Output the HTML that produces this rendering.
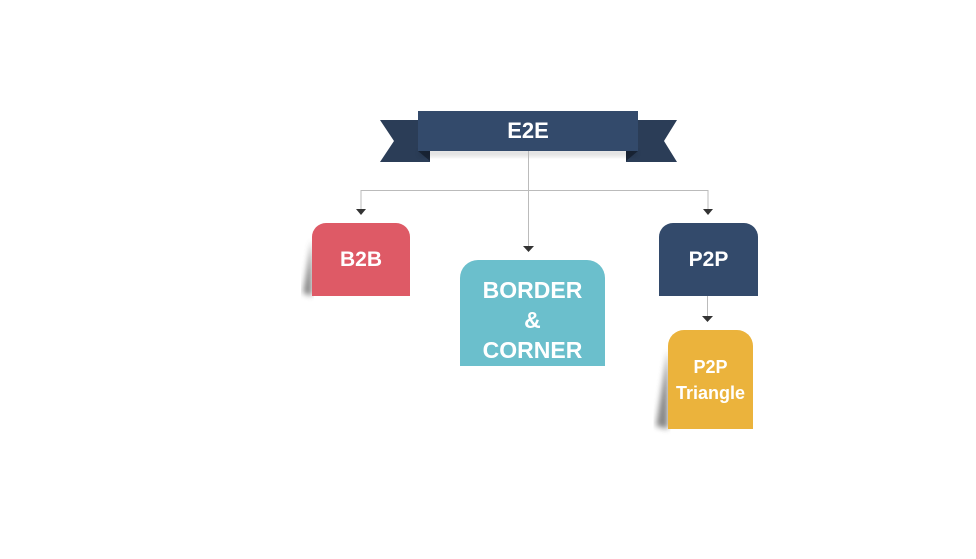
<!DOCTYPE html>
<html><head><style>
body{margin:0;width:976px;height:559px;background:#fff;overflow:hidden;position:relative;font-family:"Liberation Sans",sans-serif}
.b{position:absolute;color:#fff;font-weight:bold;display:flex;align-items:center;justify-content:center;text-align:center;box-sizing:border-box}
</style></head><body>
<svg width="976" height="559" style="position:absolute;left:0;top:0">
<defs><filter id="s" x="-20%" y="-20%" width="140%" height="160%"><feGaussianBlur stdDeviation="3"/></filter></defs>
<polygon points="380,120 430,120 430,162 380,162 394,141" fill="#2b3d57"/>
<polygon points="626,120 677,120 664,141 677,162 626,162" fill="#2b3d57"/>
<polygon points="418,151 430,151 430,161" fill="#1a2638"/>
<polygon points="638,151 626,151 626,161" fill="#1a2638"/>
<rect x="420" y="150" width="216" height="6" fill="#000" opacity="0.15" filter="url(#s)"/>
<rect x="418" y="111" width="220" height="40" fill="#334a6b"/>
<text x="528" y="138" fill="#fff" font-size="22" font-weight="bold" text-anchor="middle" font-family="Liberation Sans">E2E</text>
<g stroke="#bbb" stroke-width="1" fill="none">
<path d="M361,211 V190.5 H708 V211"/>
<path d="M528.5,151 V246"/>
<path d="M707.5,295 V316"/>
</g>
<g fill="#333">
<polygon points="356,209 366,209 361,215"/>
<polygon points="703,209 713,209 708,215"/>
<polygon points="523,246 534,246 528.5,252"/>
<polygon points="702,316 713,316 707.5,322"/>
</g>
<polygon points="312,240 303,293 312,296" fill="#555" filter="url(#s)" opacity="0.7"/>
<polygon points="668,350 656,426 668,429" fill="#555" filter="url(#s)" opacity="0.7"/>
</svg>
<div class="b" style="left:312px;top:223px;width:98px;height:73px;background:#de5a66;border-radius:14px 14px 0 0;font-size:21px">B2B</div>
<div class="b" style="left:460px;top:260px;width:145px;height:106px;background:#6bbfcc;border-radius:18px 18px 0 0;font-size:23px;line-height:30px;padding-top:14px">BORDER<br>&amp;<br>CORNER</div>
<div class="b" style="left:659px;top:223px;width:99px;height:73px;background:#334a6b;border-radius:14px 14px 0 0;font-size:21px">P2P</div>
<div class="b" style="left:668px;top:330px;width:85px;height:99px;background:#ebb33c;border-radius:16px 16px 0 0;font-size:18px;line-height:26px">P2P<br>Triangle</div>
</body></html>
